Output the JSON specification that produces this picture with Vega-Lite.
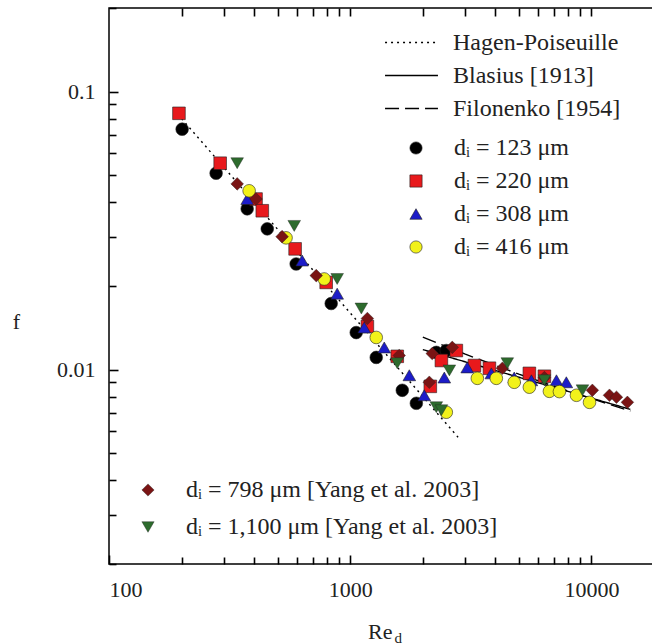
{
  "$schema": "https://vega.github.io/schema/vega-lite/v6.json",
  "width": 544,
  "height": 556,
  "padding": {"left": 12, "top": 7, "right": 0, "bottom": 0},
  "autosize": {"type": "pad"},
  "background": "white",
  "config": {
    "view": {"stroke": "black", "strokeWidth": 1.5},
    "font": "Liberation Serif",
    "axis": {"grid": false, "ticks": true, "domain": false, "zindex": 1, "tickColor": "black", "tickWidth": 1.6, "tickOpacity": 1,
      "labelFont": "Liberation Serif", "labelFontSize": 22, "labelColor": "#222",
      "titleFont": "Liberation Serif", "titleFontSize": 22, "titleFontWeight": "normal", "titleColor": "#222"},
    "legend": {"labelFont": "Liberation Serif", "labelFontSize": 24, "labelColor": "#222", "labelLimit": 500, "padding": 0}
  },
  "datasets": {
    "curves": [
      {"model": "Hagen-Poiseuille", "Re": 200, "f": 0.08},
      {"model": "Hagen-Poiseuille", "Re": 2800, "f": 0.005714},
      {"model": "Blasius [1913]", "Re": 2000, "f": 0.01181},
      {"model": "Blasius [1913]", "Re": 14500, "f": 0.0072},
      {"model": "Filonenko [1954]", "Re": 2000, "f": 0.0131},
      {"model": "Filonenko [1954]", "Re": 3000, "f": 0.01137},
      {"model": "Filonenko [1954]", "Re": 5000, "f": 0.00964},
      {"model": "Filonenko [1954]", "Re": 8000, "f": 0.00838},
      {"model": "Filonenko [1954]", "Re": 14500, "f": 0.0071}
    ],
    "lab": [
      {"s": "dᵢ = 123 μm", "Re": 201, "f": 0.0733},
      {"s": "dᵢ = 123 μm", "Re": 278, "f": 0.0509},
      {"s": "dᵢ = 123 μm", "Re": 374, "f": 0.0379},
      {"s": "dᵢ = 123 μm", "Re": 453, "f": 0.0321},
      {"s": "dᵢ = 123 μm", "Re": 597, "f": 0.024},
      {"s": "dᵢ = 123 μm", "Re": 834, "f": 0.0173},
      {"s": "dᵢ = 123 μm", "Re": 1059, "f": 0.0136},
      {"s": "dᵢ = 123 μm", "Re": 1282, "f": 0.01107},
      {"s": "dᵢ = 123 μm", "Re": 1644, "f": 0.00843},
      {"s": "dᵢ = 123 μm", "Re": 1880, "f": 0.00757},
      {"s": "dᵢ = 123 μm", "Re": 2275, "f": 0.01154},
      {"s": "dᵢ = 123 μm", "Re": 2502, "f": 0.01172},
      {"s": "dᵢ = 220 μm", "Re": 195, "f": 0.0836},
      {"s": "dᵢ = 220 μm", "Re": 289, "f": 0.0553},
      {"s": "dᵢ = 220 μm", "Re": 407, "f": 0.0411},
      {"s": "dᵢ = 220 μm", "Re": 432, "f": 0.0373},
      {"s": "dᵢ = 220 μm", "Re": 591, "f": 0.0272},
      {"s": "dᵢ = 220 μm", "Re": 795, "f": 0.0206},
      {"s": "dᵢ = 220 μm", "Re": 1178, "f": 0.0143},
      {"s": "dᵢ = 220 μm", "Re": 1567, "f": 0.01117},
      {"s": "dᵢ = 220 μm", "Re": 2148, "f": 0.00871},
      {"s": "dᵢ = 220 μm", "Re": 2388, "f": 0.01079},
      {"s": "dᵢ = 220 μm", "Re": 2754, "f": 0.01172},
      {"s": "dᵢ = 220 μm", "Re": 3274, "f": 0.01035},
      {"s": "dᵢ = 220 μm", "Re": 3777, "f": 0.01012},
      {"s": "dᵢ = 220 μm", "Re": 5530, "f": 0.0097},
      {"s": "dᵢ = 220 μm", "Re": 6383, "f": 0.00947},
      {"s": "dᵢ = 308 μm", "Re": 374, "f": 0.0411},
      {"s": "dᵢ = 308 μm", "Re": 632, "f": 0.0247},
      {"s": "dᵢ = 308 μm", "Re": 883, "f": 0.01877},
      {"s": "dᵢ = 308 μm", "Re": 1143, "f": 0.01419},
      {"s": "dᵢ = 308 μm", "Re": 1384, "f": 0.01202},
      {"s": "dᵢ = 308 μm", "Re": 1758, "f": 0.00955},
      {"s": "dᵢ = 308 μm", "Re": 2028, "f": 0.00809},
      {"s": "dᵢ = 308 μm", "Re": 2455, "f": 0.00937},
      {"s": "dᵢ = 308 μm", "Re": 3055, "f": 0.01019},
      {"s": "dᵢ = 308 μm", "Re": 3847, "f": 0.0097},
      {"s": "dᵢ = 308 μm", "Re": 4786, "f": 0.00937},
      {"s": "dᵢ = 308 μm", "Re": 5638, "f": 0.00916},
      {"s": "dᵢ = 308 μm", "Re": 7161, "f": 0.00916},
      {"s": "dᵢ = 308 μm", "Re": 7870, "f": 0.00901},
      {"s": "dᵢ = 416 μm", "Re": 381, "f": 0.044},
      {"s": "dᵢ = 416 μm", "Re": 542, "f": 0.0298},
      {"s": "dᵢ = 416 μm", "Re": 780, "f": 0.0212},
      {"s": "dᵢ = 416 μm", "Re": 1282, "f": 0.01306},
      {"s": "dᵢ = 416 μm", "Re": 2502, "f": 0.00703},
      {"s": "dᵢ = 416 μm", "Re": 3365, "f": 0.00931},
      {"s": "dᵢ = 416 μm", "Re": 4034, "f": 0.00931},
      {"s": "dᵢ = 416 μm", "Re": 4786, "f": 0.00901},
      {"s": "dᵢ = 416 μm", "Re": 5530, "f": 0.00865},
      {"s": "dᵢ = 416 μm", "Re": 6696, "f": 0.00836},
      {"s": "dᵢ = 416 μm", "Re": 7368, "f": 0.00834},
      {"s": "dᵢ = 416 μm", "Re": 8670, "f": 0.00809},
      {"s": "dᵢ = 416 μm", "Re": 9820, "f": 0.00763}
    ],
    "yang": [
      {"s": "dᵢ = 798 μm [Yang et al. 2003]", "Re": 340, "f": 0.0466},
      {"s": "dᵢ = 798 μm [Yang et al. 2003]", "Re": 407, "f": 0.0411},
      {"s": "dᵢ = 798 μm [Yang et al. 2003]", "Re": 522, "f": 0.0301},
      {"s": "dᵢ = 798 μm [Yang et al. 2003]", "Re": 723, "f": 0.0218},
      {"s": "dᵢ = 798 μm [Yang et al. 2003]", "Re": 1178, "f": 0.01528},
      {"s": "dᵢ = 798 μm [Yang et al. 2003]", "Re": 1596, "f": 0.01125},
      {"s": "dᵢ = 798 μm [Yang et al. 2003]", "Re": 2128, "f": 0.00901},
      {"s": "dᵢ = 798 μm [Yang et al. 2003]", "Re": 2188, "f": 0.01143},
      {"s": "dᵢ = 798 μm [Yang et al. 2003]", "Re": 2649, "f": 0.01203},
      {"s": "dᵢ = 798 μm [Yang et al. 2003]", "Re": 4275, "f": 0.01012},
      {"s": "dᵢ = 798 μm [Yang et al. 2003]", "Re": 6383, "f": 0.00937},
      {"s": "dᵢ = 798 μm [Yang et al. 2003]", "Re": 10090, "f": 0.00843},
      {"s": "dᵢ = 798 μm [Yang et al. 2003]", "Re": 11880, "f": 0.00809},
      {"s": "dᵢ = 798 μm [Yang et al. 2003]", "Re": 12700, "f": 0.00796},
      {"s": "dᵢ = 798 μm [Yang et al. 2003]", "Re": 14100, "f": 0.00763},
      {"s": "dᵢ = 1,100 μm [Yang et al. 2003]", "Re": 340, "f": 0.0553},
      {"s": "dᵢ = 1,100 μm [Yang et al. 2003]", "Re": 586, "f": 0.0329},
      {"s": "dᵢ = 1,100 μm [Yang et al. 2003]", "Re": 883, "f": 0.0212},
      {"s": "dᵢ = 1,100 μm [Yang et al. 2003]", "Re": 1112, "f": 0.0166},
      {"s": "dᵢ = 1,100 μm [Yang et al. 2003]", "Re": 1567, "f": 0.01055},
      {"s": "dᵢ = 1,100 μm [Yang et al. 2003]", "Re": 2275, "f": 0.00733},
      {"s": "dᵢ = 1,100 μm [Yang et al. 2003]", "Re": 2388, "f": 0.00715},
      {"s": "dᵢ = 1,100 μm [Yang et al. 2003]", "Re": 2577, "f": 0.00994},
      {"s": "dᵢ = 1,100 μm [Yang et al. 2003]", "Re": 4480, "f": 0.01055},
      {"s": "dᵢ = 1,100 μm [Yang et al. 2003]", "Re": 6383, "f": 0.00916},
      {"s": "dᵢ = 1,100 μm [Yang et al. 2003]", "Re": 9180, "f": 0.00843}
    ]
  },
  "layer": [
    {
      "data": {"name": "curves"},
      "mark": {"type": "line", "strokeWidth": 1.4, "color": "black"},
      "encoding": {
        "x": {"field": "Re", "type": "quantitative",
          "scale": {"type": "log", "domain": [100, 18000], "nice": false},
          "axis": {"orient": "bottom", "values": [100, 1000, 10000], "format": "d", "offset": -9, "tickSize": 9, "labelPadding": 15, "zindex": 1,
            "title": "Re", "titleX": 283, "titleY": 83, "titleAlign": "right", "titleBaseline": "alphabetic"}},
        "y": {"field": "f", "type": "quantitative",
          "scale": {"type": "log", "domain": [0.002, 0.2], "nice": false},
          "axis": {"orient": "left", "values": [0.01, 0.1], "format": "~g", "offset": -9, "tickSize": 9, "labelPadding": 14, "zindex": 1,
            "title": "f", "titleAngle": 0, "titleX": -102, "titleY": 313, "titleAlign": "center", "titleBaseline": "middle"}},
        "strokeDash": {"field": "model", "type": "nominal",
          "scale": {"domain": ["Hagen-Poiseuille", "Blasius [1913]", "Filonenko [1954]"], "range": [[2, 4], [1, 0], [14, 6]]},
          "legend": {"title": null, "orient": "none", "legendX": 275, "legendY": 18, "symbolType": "stroke", "symbolSize": 2800,
            "symbolStrokeWidth": 1.5, "symbolStrokeColor": "black", "labelOffset": 14, "rowPadding": 0, "clipHeight": 33}}
      }
    },
    {
      "data": {"name": "lab"},
      "mark": {"type": "point", "filled": true, "size": 160, "stroke": "#222", "strokeWidth": 0.6, "opacity": 1},
      "encoding": {
        "x": {"field": "Re", "type": "quantitative",
          "scale": {"type": "log", "domain": [100, 18000], "nice": false},
          "axis": {"orient": "bottom", "values": [200, 300, 400, 500, 600, 700, 800, 900, 2000, 3000, 4000, 5000, 6000, 7000, 8000, 9000],
            "labels": false, "offset": -7, "tickSize": 7, "zindex": 1,
            "title": "d", "titleFontSize": 15, "titleX": 285, "titleY": 85, "titleAlign": "left", "titleBaseline": "alphabetic"}},
        "y": {"field": "f", "type": "quantitative",
          "scale": {"type": "log", "domain": [0.002, 0.2], "nice": false},
          "axis": {"orient": "left", "values": [0.002, 0.003, 0.004, 0.005, 0.006, 0.007, 0.008, 0.009, 0.02, 0.03, 0.04, 0.05, 0.06, 0.07, 0.08, 0.09, 0.2],
            "labels": false, "offset": -7, "tickSize": 7, "zindex": 1, "title": null}},
        "color": {"field": "s", "type": "nominal",
          "scale": {"domain": ["dᵢ = 123 μm", "dᵢ = 220 μm", "dᵢ = 308 μm", "dᵢ = 416 μm"], "range": ["#000000", "#e8191c", "#1c1cc8", "#f2f21a"]},
          "legend": {"title": null, "orient": "none", "legendX": 295, "legendY": 128, "labelOffset": 26, "rowPadding": 9, "symbolStrokeColor": "#222", "symbolStrokeWidth": 0.6, "symbolSize": 150}},
        "shape": {"field": "s", "type": "nominal",
          "scale": {"domain": ["dᵢ = 123 μm", "dᵢ = 220 μm", "dᵢ = 308 μm", "dᵢ = 416 μm"], "range": ["circle", "square", "triangle-up", "circle"]}}
      }
    },
    {
      "data": {"name": "yang"},
      "mark": {"type": "point", "filled": true, "size": 160, "stroke": "#222", "strokeWidth": 0.4, "opacity": 1},
      "encoding": {
        "x": {"field": "Re", "type": "quantitative",
          "scale": {"type": "log", "domain": [100, 18000], "nice": false},
          "axis": {"orient": "top", "values": [200, 300, 400, 500, 600, 700, 800, 900, 1000, 2000, 3000, 4000, 5000, 6000, 7000, 8000, 9000, 10000],
            "labels": false, "offset": -8, "tickSize": 8, "zindex": 1, "title": null}},
        "y": {"field": "f", "type": "quantitative",
          "scale": {"type": "log", "domain": [0.002, 0.2], "nice": false}, "axis": null},
        "color": {"field": "s", "type": "nominal",
          "scale": {"domain": ["dᵢ = 798 μm [Yang et al. 2003]", "dᵢ = 1,100 μm [Yang et al. 2003]"], "range": ["#7a1414", "#2d6b2d"]},
          "legend": {"title": null, "orient": "none", "legendX": 27, "legendY": 470, "labelOffset": 26, "rowPadding": 13, "symbolStrokeColor": "#222", "symbolStrokeWidth": 0.4, "symbolSize": 150}},
        "shape": {"field": "s", "type": "nominal",
          "scale": {"domain": ["dᵢ = 798 μm [Yang et al. 2003]", "dᵢ = 1,100 μm [Yang et al. 2003]"], "range": ["diamond", "triangle-down"]}}
      }
    }
  ],
  "resolve": {"axis": {"x": "independent", "y": "independent"}, "scale": {"color": "independent", "shape": "independent"}}
}
